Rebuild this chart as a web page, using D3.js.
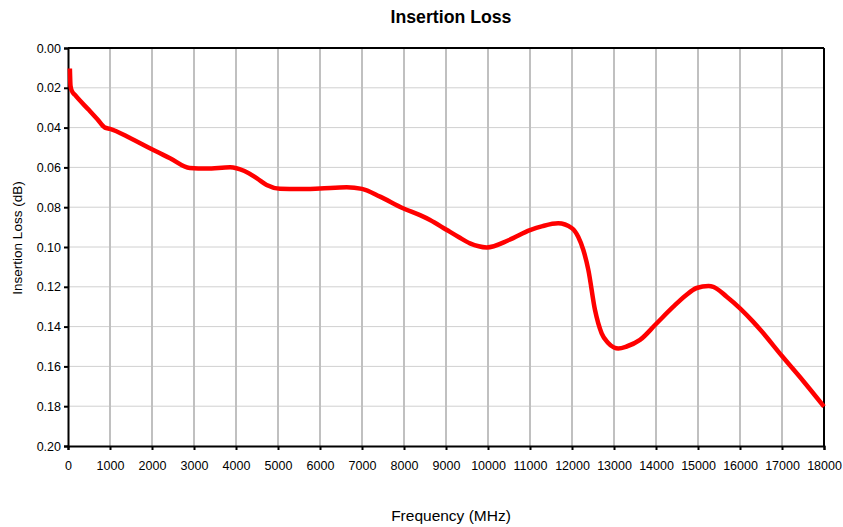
<!DOCTYPE html>
<html><head><meta charset="utf-8">
<script src="https://cdn.jsdelivr.net/npm/d3@7"></script>
<style>body{margin:0;background:#fff;}svg{display:block;font-family:"Liberation Sans",Arial,sans-serif;}</style>
</head><body><svg id="c" width="843" height="527"></svg>
<script>
const title = "Insertion Loss";
const xLabel = "Frequency (MHz)";
const yLabel = "Insertion Loss (dB)";
const xTicks = [0,1000,2000,3000,4000,5000,6000,7000,8000,9000,10000,11000,12000,13000,14000,15000,16000,17000,18000];
const yTicks = [0,0.02,0.04,0.06,0.08,0.10,0.12,0.14,0.16,0.18,0.20];
const freq = [45,60,90,167,500,700,880,1000,1500,1950,2430,2900,3300,3860,4200,4500,4730,5048,5500,6000,6635,7000,7430,7976,8381,8619,9000,9300,9570,9970,10500,11000,11300,11670,12000,12150,12270,12390,12548,12706,12850,13000,13103,13300,13619,14000,14413,14700,14968,15250,15365,15683,16000,16310,16500,17000,17500,18000];
const loss = [0.0103,0.0190,0.0215,0.0236,0.0312,0.0358,0.0400,0.0406,0.0455,0.0504,0.0554,0.0603,0.0606,0.0599,0.0618,0.0655,0.0688,0.0707,0.0709,0.0706,0.0700,0.0708,0.0747,0.0805,0.0840,0.0864,0.0912,0.0950,0.0982,0.1002,0.0965,0.0915,0.0895,0.0881,0.0906,0.0950,0.1015,0.1116,0.1317,0.1434,0.1480,0.1505,0.1510,0.1500,0.1467,0.1387,0.1300,0.1245,0.1206,0.1196,0.1200,0.1250,0.1308,0.1375,0.1420,0.1548,0.1672,0.1802];

const svg = d3.select("#c");
const L=68, R=824, T=48, B=446;
const x = d3.scaleLinear().domain([0,18000]).range([L,R]);
const y = d3.scaleLinear().domain([0,0.2]).range([T,B]);

// horizontal grid
svg.append("g").selectAll("line").data(yTicks.slice(1,-1)).join("line")
  .attr("x1",L).attr("x2",R).attr("y1",d=>y(d)).attr("y2",d=>y(d))
  .attr("stroke","#d0d0d0").attr("stroke-width",1);
// vertical grid
svg.append("g").selectAll("line").data(xTicks.slice(1,-1)).join("line")
  .attr("x1",d=>x(d)).attr("x2",d=>x(d)).attr("y1",T).attr("y2",B)
  .attr("stroke","#c0c0c0").attr("stroke-width",2);

// axes
const xa = svg.append("g").attr("transform",`translate(0,${B})`)
  .call(d3.axisBottom(x).tickValues(xTicks).tickFormat(d3.format("d")).tickSize(4).tickPadding(11));
const ya = svg.append("g").attr("transform",`translate(${L},0)`)
  .call(d3.axisLeft(y).tickValues(yTicks).tickFormat(d3.format(".2f")).tickSize(4).tickPadding(3));
[xa,ya].forEach(a=>{
  a.select(".domain").attr("stroke","#000").attr("stroke-width",2);
  a.selectAll(".tick line").attr("stroke","#000").attr("stroke-width",2);
  a.selectAll("text").attr("font-size",12.5).attr("fill","#000").attr("font-family","Liberation Sans, Arial, sans-serif");
});
// frame top/right
svg.append("line").attr("x1",L).attr("x2",R).attr("y1",T).attr("y2",T).attr("stroke","#000").attr("stroke-width",2);
svg.append("line").attr("x1",R).attr("x2",R).attr("y1",T).attr("y2",B).attr("stroke","#000").attr("stroke-width",2);

// line
const data = freq.map((f,i)=>[f,loss[i]]);
svg.append("path").datum(data)
  .attr("fill","none").attr("stroke","#ff0000").attr("stroke-width",4.5).attr("stroke-linejoin","round")
  .attr("d", d3.line().x(d=>x(d[0])).y(d=>y(d[1])).curve(d3.curveMonotoneX));

svg.append("text").attr("x",451).attr("y",23).attr("text-anchor","middle")
  .attr("font-size",17.7).attr("font-weight","bold").text(title);
svg.append("text").attr("x",451).attr("y",521).attr("text-anchor","middle")
  .attr("font-size",15.5).text(xLabel);
svg.append("text").attr("transform","translate(22,238) rotate(-90)").attr("text-anchor","middle")
  .attr("font-size",13.5).text(yLabel);
</script></body></html>
